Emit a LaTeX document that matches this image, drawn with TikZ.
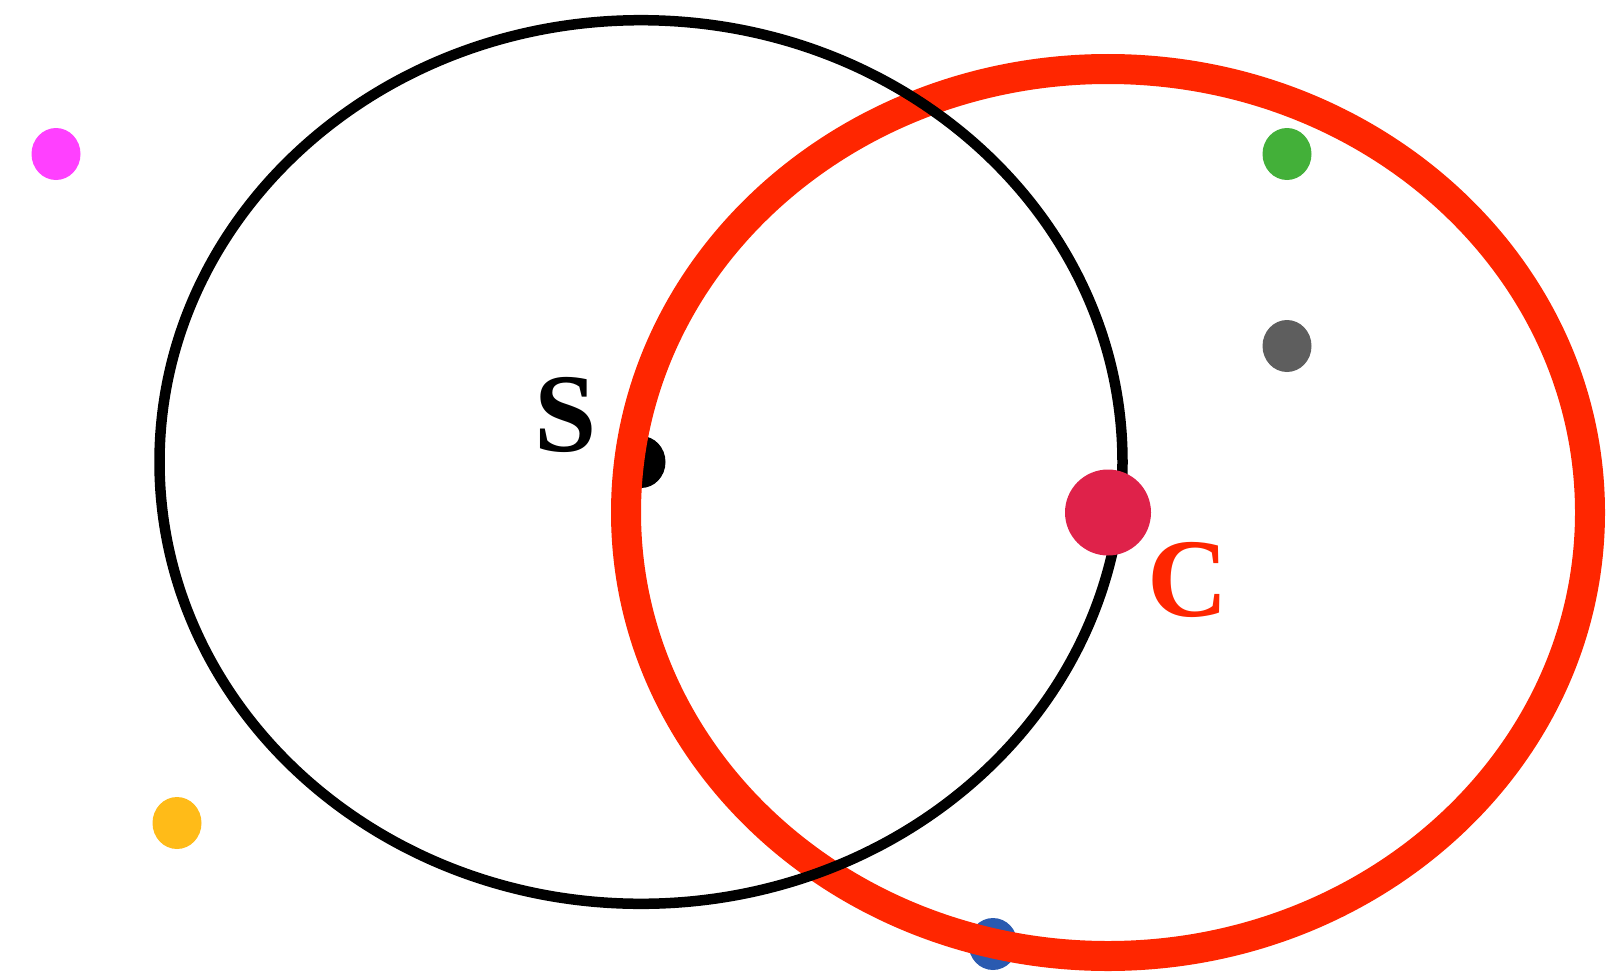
\documentclass[tikz,border=0pt]{standalone}
\usepackage{fontspec}
\setmainfont{Liberation Serif}
\usetikzlibrary{shapes.geometric}
\definecolor{set-red}{RGB}{255,38,0}
\definecolor{dot-crimson}{RGB}{223,34,74}
\definecolor{dot-pink}{RGB}{255,64,255}
\definecolor{dot-green}{RGB}{67,176,57}
\definecolor{dot-gray}{RGB}{94,94,94}
\definecolor{dot-yellow}{RGB}{255,187,24}
\definecolor{dot-blue}{RGB}{42,90,176}

\begin{document}
\begin{tikzpicture}[
  x=1pt, y=-1pt,
  dot/.style={ellipse, inner sep=0pt, minimum width=49pt, minimum height=52pt},
  setlabel/.style={font=\fontsize{112}{112}\selectfont\bfseries, inner sep=0pt},
]
  \useasboundingbox (0,0) rectangle (1619,974);

  % Points under the red set
  \node[dot, fill=black] (s) at (641,462) {};
  \node[dot, fill=dot-blue] (blue) at (993,944) {};

  % Red set C
  \coordinate (cc) at (1108,512.5);
  \draw[set-red, line width=30pt] (cc) ellipse [x radius=482, y radius=443.5];

  % Black set S
  \draw[black, line width=10.5pt] (s) ellipse [x radius=481.5, y radius=441.8];

  % Centre of C
  \node[circle, fill=dot-crimson, inner sep=0pt, minimum size=86pt] (c) at (cc) {};

  % Other points
  \node[dot, fill=dot-pink] (pink) at (56,154) {};
  \node[dot, fill=dot-green] (green) at (1287,154) {};
  \node[dot, fill=dot-gray] (gray) at (1287,346) {};
  \node[dot, fill=dot-yellow] (yellow) at (177,823) {};

  % Labels
  \node[setlabel] (slabel) at (565.5,415) {S};
  \node[setlabel, text=set-red] (clabel) at (1188,579.5) {C};
\end{tikzpicture}
\end{document}
